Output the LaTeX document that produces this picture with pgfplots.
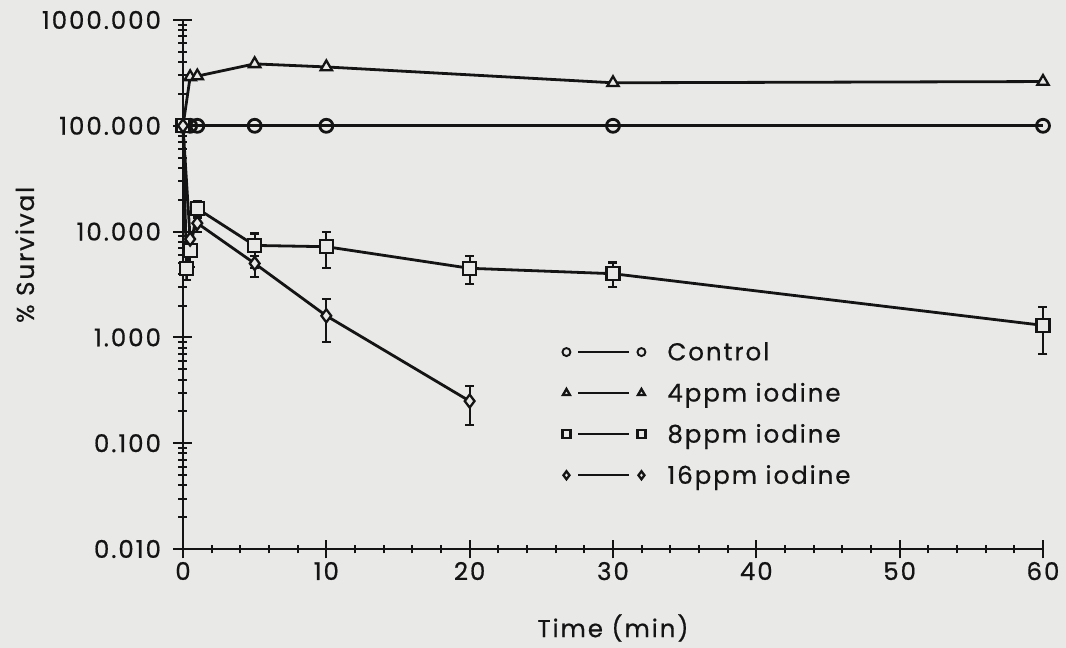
\documentclass[border=0pt]{standalone}
\usepackage{fontspec}
\setmainfont{Poppins}[LetterSpace=8, UprightFeatures={FakeBold=0.6}]
\usepackage{pgfplots}
\pgfplotsset{compat=1.18}
\definecolor{paper}{RGB}{233,233,232}
\definecolor{ink}{RGB}{20,20,20}
\newcommand{\lblfont}{\fontsize{24.5}{28}\selectfont}
\begin{document}
\begin{tikzpicture}
\path[use as bounding box, fill=paper] (-183pt,-99pt) rectangle (883pt,549pt);
\begin{axis}[
  at={(0pt,0pt)}, anchor=south west,
  scale only axis, width=860pt, height=529pt,
  xmin=0, xmax=60, ymode=log, ymin=0.01, ymax=1000,
  axis lines*=left,
  axis line style={line width=2.3pt, color=ink},
  clip=false,
  xtick={0,10,20,30,40,50,60},
  minor x tick num=4,
  ytick={0.01,0.1,1,10,100,1000},
  yticklabels={0.010,0.100,1.000,10.000,100.000,1000.000},
  tick align=center,
  major tick length=19pt, minor tick length=9pt,
  every tick/.style={line width=2pt, color=ink},
  /pgf/number format/assume math mode=true,
  tick label style={font=\lblfont, color=ink},
  yticklabel style={xshift=-9pt},
  xticklabel style={yshift=0pt},
  xlabel={Time (min)},
  every axis x label/.style={at={(rel axis cs:0.5,0)}, anchor=center, yshift=-79pt, font=\lblfont, color=ink},
  ylabel={\% Survival},
  every axis y label/.style={at={(axis description cs:-0.184,0.556)}, anchor=center, rotate=90, font=\lblfont, color=ink},
  every axis plot/.append style={line width=2.8pt, color=ink, mark size=6.5pt, mark options={fill=paper, line width=2.3pt, solid}},
  error bars/error bar style={line width=2.1pt, color=ink},
  error bars/error mark options={rotate=90, line width=2.1pt, mark size=4.5pt, color=ink},
  legend style={at={(rel axis cs:0.441,0.395)}, anchor=north west, draw=none, fill=none,
    inner sep=0pt, row sep=17pt, column sep=20pt, font=\lblfont, text=ink,
    nodes={inner sep=2pt}},
  legend cell align=left,
  legend image code/.code={%
    \draw[#1, mark=none, line width=2.3pt] (12pt,0pt) -- (63pt,0pt);
    \draw[#1, only marks, mark size=4pt, line width=1.9pt] plot coordinates {(0pt,0pt) (75pt,0pt)};
  },
]
\addplot[mark=o, mark options={fill=paper}] coordinates {
  (0,100) (0.5,100) (1,100) (5,100) (10,100) (30,100) (60,100)};
\addlegendentry{Control}
\addplot[mark=triangle*] coordinates {
  (0,100) (0.5,290) (1,295) (5,385) (10,360) (30,255) (60,262)};
\addlegendentry{4ppm iodine}
\addplot[mark=square*, error bars/.cd, y dir=both, y explicit] coordinates {
  (0,100)
  (0.25,4.5) += (0,1.5) -= (0,1.0)
  (0.5,6.6) += (0,2.0) -= (0,2.0)
  (1,16.5) += (0,3.0) -= (0,3.0)
  (5,7.4) += (0,2.2) -= (0,2.9)
  (10,7.2) += (0,2.8) -= (0,2.7)
  (20,4.5) += (0,1.4) -= (0,1.3)
  (30,4.0) += (0,1.1) -= (0,1.0)
  (60,1.3) += (0,0.62) -= (0,0.6)};
\addlegendentry{8ppm iodine}
\addplot[mark=diamond*, error bars/.cd, y dir=both, y explicit] coordinates {
  (0,100)
  (0.5,8.5)
  (1,12) += (0,2.0) -= (0,2.0)
  (5,5.0) += (0,0.9) -= (0,1.3)
  (10,1.6) += (0,0.7) -= (0,0.7)
  (20,0.25) += (0,0.10) -= (0,0.10)};
\addlegendentry{16ppm iodine}
\end{axis}
\end{tikzpicture}
\end{document}
